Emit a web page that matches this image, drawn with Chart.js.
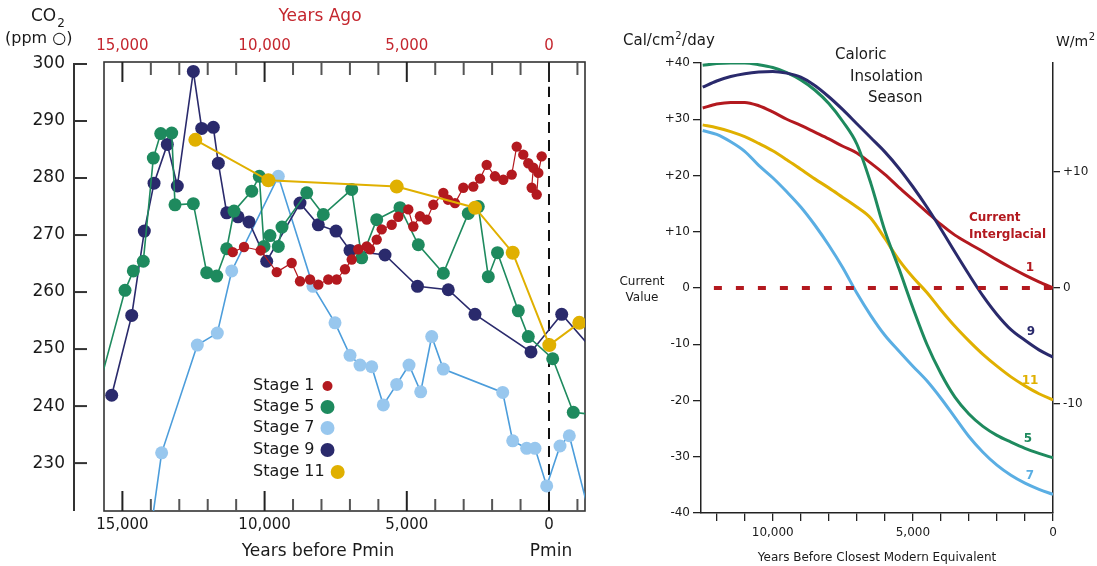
<!DOCTYPE html>
<html>
<head>
<meta charset="utf-8">
<script src="https://cdn.jsdelivr.net/npm/chart.js@4.4.1/dist/chart.umd.min.js"></script>
<style>
  html, body { margin: 0; padding: 0; background: #fff; }
  #left { position: absolute; left: 0; top: 0; width: 600px; height: 566px; }
  #right { position: absolute; left: 600px; top: 0; width: 497px; height: 566px; }
</style>
</head>
<body>
<div id="left"><canvas id="co2Chart"></canvas></div>
<div id="right"><canvas id="insolChart"></canvas></div>
<script>
// LEFT PANEL: CO2 (ppm) vs years before Pmin, one pair of arrays per stage
const stage1Years = [11121, 10724, 10137, 9574, 9047, 8755, 8403, 8111, 7760, 7465, 7173, 6937, 6705, 6410, 6294, 6058, 5882, 5531, 5299, 4947, 4771, 4536, 4300, 4068, 3716, 3551, 3305, 3013, 2662, 2426, 2190, 1899, 1607, 1311, 1136, 904, 728, 552, 608, 432, 376, 257];
const stage1Co2 = [267.0, 267.9, 267.3, 263.5, 265.1, 261.9, 262.2, 261.3, 262.2, 262.2, 264.0, 265.7, 267.5, 268.0, 267.5, 269.2, 271.0, 271.8, 273.2, 274.5, 271.5, 273.3, 272.7, 275.3, 277.4, 276.2, 275.6, 278.3, 278.5, 279.9, 282.3, 280.3, 279.7, 280.6, 285.5, 284.1, 282.6, 281.8, 278.3, 277.1, 280.9, 283.8];

const stage5Years = [15963, 14908, 14616, 14265, 13913, 13653, 13266, 13150, 12506, 12035, 11684, 11332, 11075, 10453, 10186, 10021, 9810, 9518, 9388, 8519, 7936, 6937, 6586, 6058, 5239, 4595, 3716, 2837, 2486, 2134, 1811, 1079, 728, -130, -854, -1793];
const stage5Co2 = [240.8, 260.3, 263.7, 265.4, 283.5, 287.8, 287.9, 275.3, 275.5, 263.4, 262.8, 267.6, 274.2, 277.7, 280.3, 268.0, 269.9, 268.0, 271.4, 277.4, 273.6, 278.0, 266.0, 272.7, 274.8, 268.3, 263.3, 273.8, 275.0, 262.7, 266.9, 256.7, 252.2, 248.3, 238.9, 238.4];

const stage7Years = [14043, 13620, 12366, 11663, 11156, 9518, 8298, 7524, 6997, 6645, 6234, 5826, 5355, 4922, 4511, 4124, 3716, 1628, 1276, 784, 492, 81, -387, -714, -1512];
const stage7Co2 = [216.7, 231.8, 250.7, 252.8, 263.7, 280.3, 261.0, 254.6, 248.9, 247.2, 246.9, 240.2, 243.8, 247.2, 242.5, 252.2, 246.5, 242.4, 233.9, 232.6, 232.6, 226.0, 233.0, 234.8, 219.3];

const stage9Years = [15376, 14672, 14229, 13888, 13421, 13069, 12506, 12211, 11803, 11627, 11332, 10935, 10548, 9926, 8755, 8111, 7489, 6997, 5766, 4624, 3541, 2602, 633, -447, -1793];
const stage9Co2 = [241.9, 255.9, 270.7, 279.1, 285.9, 278.6, 298.7, 288.7, 288.9, 282.6, 273.9, 273.2, 272.3, 265.4, 275.6, 271.8, 270.7, 267.3, 266.5, 261.0, 260.4, 256.1, 249.5, 256.1, 248.4];

const stage11Years = [12436, 9869, 5355, 2602, 1276, -11, -1065, -1793];
const stage11Co2 = [286.7, 279.6, 278.5, 274.8, 266.9, 250.7, 254.6, 255.5];

const pminYears = [0, 0];
const pminCo2 = [221.6, 296];

const co2Ticks = [230, 240, 250, 260, 270, 280, 290, 300];
const pminTicks = [15000, 10000, 5000, 0];
const stageNames = ['Stage 1', 'Stage 5', 'Stage 7', 'Stage 9', 'Stage 11'];

// RIGHT PANEL: caloric insolation season, cal/cm2/day vs years before closest modern equivalent
const insolYears = [12500, 12000, 11500, 11000, 10500, 10000, 9500, 9000, 8500, 8000, 7500, 7000, 6500, 6000, 5500, 5000, 4500, 4000, 3500, 3000, 2500, 2000, 1500, 1000, 500, 0];
const insolStage1 = [32.0, 32.7, 33.0, 33.0, 32.4, 31.3, 30.0, 28.9, 27.7, 26.5, 25.2, 24.0, 22.2, 20.2, 17.9, 15.7, 13.5, 11.3, 9.4, 7.9, 6.5, 5.0, 3.6, 2.3, 1.1, 0.0];
const insolStage5 = [39.6, 39.9, 40.0, 40.0, 39.7, 39.2, 38.3, 37.0, 35.2, 32.8, 29.6, 25.6, 18.6, 10.2, 3.5, -3.5, -10.0, -15.2, -19.4, -22.4, -24.6, -26.2, -27.4, -28.5, -29.4, -30.2];
const insolStage7 = [28.0, 27.3, 26.0, 24.3, 21.8, 19.6, 17.1, 14.4, 11.2, 7.6, 3.6, -0.9, -4.9, -8.4, -11.2, -13.9, -16.5, -19.6, -23.0, -26.4, -29.2, -31.5, -33.3, -34.7, -35.8, -36.7];
const insolStage9 = [35.7, 36.8, 37.6, 38.1, 38.4, 38.5, 38.2, 37.5, 36.0, 34.0, 31.7, 29.2, 26.7, 24.2, 21.3, 18.0, 14.4, 10.5, 6.4, 2.4, -1.4, -4.7, -7.4, -9.3, -11.0, -12.3];
const insolStage11 = [29.0, 28.5, 27.8, 26.9, 25.7, 24.4, 22.8, 21.1, 19.4, 17.8, 16.1, 14.4, 12.4, 8.8, 5.0, 1.9, -0.8, -3.9, -6.8, -9.4, -11.8, -13.9, -15.8, -17.4, -18.8, -19.9];
const currentYears = [12100, 0];
const currentValue = [0, 0];
const insolYearTicks = [12000, 11000, 10000, 9000, 8000, 7000, 6000, 5000, 4000, 3000, 2000, 1000, 0];

const FONT = 'DejaVu Sans';
const RED = '#b3191f';
const GREEN = '#1e8a5e';
const LIGHTBLUE = '#98c7ee';
const BLUELINE = '#4c9ddb';
const NAVY = '#2a2a6c';
const YELLOW = '#e0b000';
const stageColors = [RED, GREEN, LIGHTBLUE, NAVY, YELLOW];

const pts = (xs, ys) => xs.map((x, i) => ({ x: x, y: ys[i] }));
const fixedTicks = list => s => { s.ticks = list.map(v => ({ value: v })); };

// axis ranges
const xMin = -1266, xMax = 15647, yMin = 221.6, yMax = 300.35;

function stageSet(label, xs, ys, lineColor, dotColor, width, radius) {
  return {
    label: label,
    data: pts(xs, ys),
    borderColor: lineColor,
    backgroundColor: dotColor,
    pointBackgroundColor: dotColor,
    pointBorderWidth: 0,
    borderWidth: width,
    pointRadius: c => (c.raw.x < xMin || c.raw.x > xMax || c.raw.y < yMin) ? 0 : radius,
    tension: 0
  };
}

function line(ctx, x1, y1, x2, y2) {
  ctx.beginPath(); ctx.moveTo(x1, y1); ctx.lineTo(x2, y2); ctx.stroke();
}

// box, inward ticks, detached y axis, legend and labels
const co2Decor = {
  id: 'co2Decor',
  beforeDatasetsDraw(chart) {
    const { ctx, chartArea: a, scales } = chart;
    const x = scales.x, y = scales.y;
    ctx.save();
    ctx.strokeStyle = '#333';
    ctx.lineWidth = 1.6;
    ctx.strokeRect(a.left, a.top, a.right - a.left, a.bottom - a.top);
    for (let v = 15000; v >= -1000; v -= 1000) {
      const px = x.getPixelForValue(v);
      const major = v % 5000 === 0;
      ctx.strokeStyle = major ? '#222' : '#555';
      ctx.lineWidth = 2;
      line(ctx, px, a.top, px, a.top + (major ? 20 : 13));
      line(ctx, px, a.bottom, px, a.bottom - (major ? 20 : 12));
    }
    ctx.strokeStyle = '#333';
    ctx.lineWidth = 2;
    line(ctx, 74, y.getPixelForValue(300) - 1, 74, a.bottom);
    co2Ticks.forEach(v => {
      const py = y.getPixelForValue(v);
      line(ctx, 74, py, 87, py);
    });
    ctx.restore();
  },
  afterDraw(chart) {
    const { ctx } = chart;
    ctx.save();
    ctx.textBaseline = 'middle';
    ctx.fillStyle = '#1a1a1a';
    ctx.font = '17px "' + FONT + '"';
    ctx.textAlign = 'left';
    ctx.fillText('CO', 31, 17);
    const coW = ctx.measureText('CO').width;
    ctx.font = '12px "' + FONT + '"';
    ctx.fillText('2', 31 + coW + 1, 24);
    ctx.font = '16px "' + FONT + '"';
    ctx.fillText('(ppm \u25CB)', 5, 39);

    ctx.textAlign = 'center';
    ctx.font = '17px "' + FONT + '"';
    ctx.fillText('Years before Pmin', 318, 552);
    ctx.fillText('Pmin', 551, 552);
    ctx.fillStyle = '#c4262e';
    ctx.fillText('Years Ago', 320, 17);

    // legend
    ctx.textAlign = 'left';
    ctx.font = '16px "' + FONT + '"';
    const rows = [386, 407, 428, 450, 472];
    stageNames.forEach((name, i) => {
      ctx.fillStyle = '#1a1a1a';
      ctx.fillText(name, 253, rows[i]);
      const w = ctx.measureText(name).width;
      ctx.fillStyle = stageColors[i];
      ctx.beginPath();
      ctx.arc(253 + w + 13, rows[i], i === 0 ? 5 : 7, 0, Math.PI * 2);
      ctx.fill();
    });
    ctx.restore();
  }
};

new Chart(document.getElementById('co2Chart'), {
  type: 'line',
  data: {
    datasets: [
      stageSet('Stage 11', stage11Years, stage11Co2, YELLOW, YELLOW, 2, 7),
      stageSet('Stage 1', stage1Years, stage1Co2, RED, RED, 1.2, 5.2),
      stageSet('Stage 5', stage5Years, stage5Co2, GREEN, GREEN, 1.6, 6.5),
      stageSet('Stage 9', stage9Years, stage9Co2, NAVY, NAVY, 1.6, 6.5),
      stageSet('Stage 7', stage7Years, stage7Co2, BLUELINE, LIGHTBLUE, 1.6, 6.5),
      {
        label: 'Pmin',
        data: pts(pminYears, pminCo2),
        borderColor: '#111',
        borderWidth: 2,
        borderDash: [11, 7],
        pointRadius: 0
      }
    ]
  },
  options: {
    responsive: true,
    maintainAspectRatio: false,
    animation: false,
    layout: { padding: { right: 15 } },
    plugins: { legend: { display: false }, tooltip: { enabled: false } },
    scales: {
      x: {
        type: 'linear', position: 'bottom', reverse: true, min: xMin, max: xMax,
        afterBuildTicks: fixedTicks(pminTicks),
        afterFit: s => { s.height = 55; },
        grid: { display: false, drawTicks: false },
        border: { display: false },
        ticks: {
          autoSkip: false, maxRotation: 0, padding: 5,
          color: '#1a1a1a', font: { family: FONT, size: 15 },
          callback: v => v.toLocaleString('en-US')
        }
      },
      xTop: {
        type: 'linear', position: 'top', reverse: true, min: xMin, max: xMax,
        afterBuildTicks: fixedTicks(pminTicks),
        afterFit: s => { s.height = 62; },
        grid: { display: false, drawTicks: false },
        border: { display: false },
        ticks: {
          autoSkip: false, maxRotation: 0, padding: 7,
          color: '#c4262e', font: { family: FONT, size: 15 },
          callback: v => v.toLocaleString('en-US')
        }
      },
      y: {
        type: 'linear', min: yMin, max: yMax,
        afterBuildTicks: fixedTicks(co2Ticks),
        afterFit: s => { s.width = 104; },
        grid: { display: false, drawTicks: false },
        border: { display: false },
        ticks: {
          padding: 39,
          color: '#1a1a1a', font: { family: FONT, size: 17 }
        }
      }
    }
  },
  plugins: [co2Decor]
});

// RIGHT PANEL
const insolDecor = {
  id: 'insolDecor',
  afterDraw(chart) {
    const { ctx } = chart;
    ctx.save();
    ctx.textBaseline = 'middle';
    ctx.textAlign = 'left';
    ctx.fillStyle = '#1a1a1a';
    const unit = (a, b, x, y, size) => {
      ctx.font = size + 'px "' + FONT + '"';
      ctx.fillText(a, x, y);
      const w = ctx.measureText(a).width;
      ctx.font = '10px "' + FONT + '"';
      ctx.fillText('2', x + w + 0.5, y - 5);
      const w2 = ctx.measureText('2').width;
      ctx.font = size + 'px "' + FONT + '"';
      ctx.fillText(b, x + w + w2 + 1, y);
    };
    unit('Cal/cm', '/day', 23, 41, 15);
    unit('W/m', '', 456, 42, 14);

    ctx.font = '15px "' + FONT + '"';
    ctx.fillText('Caloric', 235, 55);
    ctx.fillText('Insolation', 250, 77);
    ctx.fillText('Season', 268, 98);

    ctx.textAlign = 'center';
    ctx.font = '12px "' + FONT + '"';
    ctx.fillText('Current', 42, 282);
    ctx.fillText('Value', 42, 298);

    ctx.textAlign = 'left';
    ctx.font = 'bold 12px "' + FONT + '"';
    ctx.fillStyle = RED;
    ctx.fillText('Current', 369, 218);
    ctx.fillText('Interglacial', 369, 235);

    ctx.textAlign = 'center';
    const nums = [['1', RED, 430, 268], ['9', NAVY, 431, 332], ['11', YELLOW, 430, 381], ['5', GREEN, 428, 439], ['7', '#5aaee3', 430, 476]];
    nums.forEach(n => {
      ctx.fillStyle = n[1];
      ctx.fillText(n[0], n[2], n[3]);
    });
    ctx.restore();
  }
};

function curve(label, ys, color) {
  return {
    label: label,
    data: pts(insolYears, ys),
    borderColor: color,
    borderWidth: 3,
    pointRadius: 0,
    cubicInterpolationMode: 'monotone'
  };
}

const signed = v => (v > 0 ? '+' + v : String(v));
const axisGrid = len => ({ drawOnChartArea: false, drawTicks: true, tickLength: len, color: '#222', lineWidth: 1.3 });

new Chart(document.getElementById('insolChart'), {
  type: 'line',
  data: {
    datasets: [
      {
        label: 'Current Value',
        data: pts(currentYears, currentValue),
        borderColor: RED,
        borderWidth: 4,
        borderDash: [8, 14],
        pointRadius: 0
      },
      curve('9', insolStage9, NAVY),
      curve('5', insolStage5, GREEN),
      curve('1', insolStage1, RED),
      curve('11', insolStage11, YELLOW),
      curve('7', insolStage7, '#5aaee3')
    ]
  },
  options: {
    responsive: true,
    maintainAspectRatio: false,
    animation: false,
    layout: { padding: { top: 63 } },
    plugins: { legend: { display: false }, tooltip: { enabled: false } },
    scales: {
      x: {
        type: 'linear', position: 'bottom', reverse: true, min: 0, max: 12560,
        afterBuildTicks: fixedTicks(insolYearTicks),
        afterFit: s => { s.height = 53; },
        grid: axisGrid(8),
        border: { color: '#222', width: 1.5 },
        ticks: {
          autoSkip: false, maxRotation: 0, padding: 5,
          color: '#1a1a1a', font: { family: FONT, size: 12 },
          callback: v => (v % 5000 === 0 ? v.toLocaleString('en-US') : '')
        },
        title: {
          display: true, text: 'Years Before Closest Modern Equivalent',
          color: '#1a1a1a', font: { family: FONT, size: 12 }, padding: { top: 0, bottom: 1 }
        }
      },
      y: {
        type: 'linear', position: 'left', min: -40, max: 40,
        afterFit: s => { s.width = 101; },
        grid: axisGrid(8),
        border: { color: '#222', width: 1.5 },
        ticks: {
          stepSize: 10, includeBounds: false, padding: 3,
          color: '#1a1a1a', font: { family: FONT, size: 12 }, callback: signed
        }
      },
      y2: {
        type: 'linear', position: 'right', min: -40 * 0.4843, max: 40 * 0.4843,
        afterBuildTicks: fixedTicks([-10, 0, 10]),
        afterFit: s => { s.width = 44; },
        grid: axisGrid(7),
        border: { color: '#222', width: 1.5 },
        ticks: {
          padding: 3,
          color: '#1a1a1a', font: { family: FONT, size: 12 }, callback: signed
        }
      }
    }
  },
  plugins: [insolDecor]
});
</script>
</body>
</html>
